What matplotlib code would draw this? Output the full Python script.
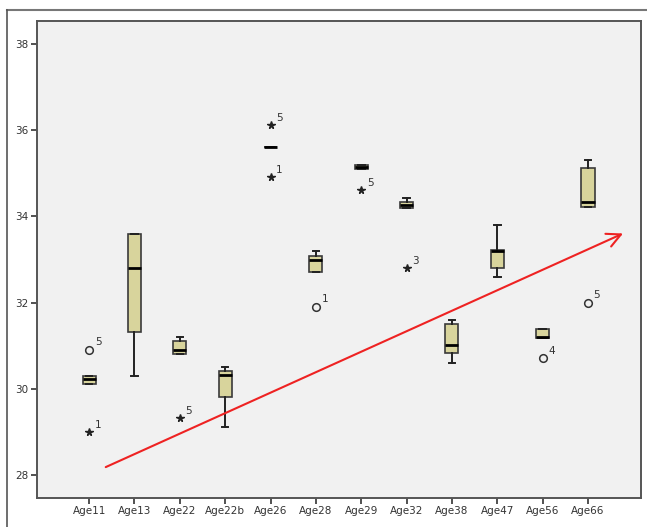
import matplotlib.pyplot as plt
import matplotlib.lines as mlines
import numpy as np

# ---------------- data ----------------
groups = ['Age11', 'Age13', 'Age22', 'Age22b', 'Age26', 'Age28',
          'Age29', 'Age32', 'Age38', 'Age47', 'Age56', 'Age66']
whislo = [30.12, 30.30, 30.81, 29.12, 35.60, 32.70, 35.09, 34.20, 30.60, 32.60, 31.19, 34.21]
q1     = [30.12, 31.33, 30.81, 29.81, 35.60, 32.70, 35.09, 34.20, 30.84, 32.81, 31.19, 34.21]
med    = [30.22, 32.81, 30.90, 30.33, 35.60, 33.00, 35.14, 34.26, 31.02, 33.20, 31.21, 34.33]
q3     = [30.30, 33.60, 31.12, 30.42, 35.60, 33.09, 35.19, 34.33, 31.51, 33.21, 31.40, 35.12]
whishi = [30.30, 33.60, 31.20, 30.51, 35.60, 33.19, 35.19, 34.42, 31.60, 33.79, 31.40, 35.30]

# outliers: (group index, value, case label)
circ_grp = [0, 5, 10, 11]
circ_val = [30.91, 31.91, 30.72, 32.00]
circ_lab = ['5', '1', '4', '5']
star_grp = [0, 2, 4, 4, 6, 7]
star_val = [29.00, 29.33, 36.12, 34.91, 34.60, 32.81]
star_lab = ['1', '5', '5', '1', '5', '3']

# trend arrow (x in group units, y in data units)
arrow_x = [0.31, 11.83]
arrow_y = [28.16, 33.63]

# ---------------- plot ----------------
fig = plt.figure(figsize=(6.47, 5.27), dpi=100)
W, H = 647, 527
ax = fig.add_axes([37 / W, 1 - 498 / H, (641 - 37) / W, (498 - 21) / H])
ax.set_facecolor('#f1f1f1')

stats = []
for i in range(len(groups)):
    stats.append({'whislo': whislo[i], 'q1': q1[i], 'med': med[i],
                  'q3': q3[i], 'whishi': whishi[i], 'fliers': []})

ax.bxp(stats, positions=range(len(groups)), widths=0.29, patch_artist=True,
       showfliers=False,
       boxprops=dict(facecolor='#d8d49c', edgecolor='#3a3a3a', linewidth=1.2),
       medianprops=dict(color='black', linewidth=2.0),
       whiskerprops=dict(color='#222222', linewidth=1.4),
       capprops=dict(color='#222222', linewidth=1.4))

ax.plot(circ_grp, circ_val, 'o', mfc='none', mec='#333333', ms=5.5, mew=1.1)
ax.plot(star_grp, star_val, '*', color='#222222', ms=5.5, ls='none')
for g, v, t in zip(circ_grp + star_grp, circ_val + star_val, circ_lab + star_lab):
    ax.annotate(t, (g, v), xytext=(4, 3), textcoords='offset points',
                fontsize=7.5, color='#333333')

ax.annotate('', xy=(arrow_x[1], arrow_y[1]), xytext=(arrow_x[0], arrow_y[0]),
            arrowprops=dict(arrowstyle='->,head_length=1.0,head_width=0.5',
                            color='#ee2222', lw=1.5))

ax.set_xlim(-1.15, 12.17)
ax.set_ylim(27.47, 38.53)
ax.set_yticks([28, 30, 32, 34, 36, 38])
ax.set_xticks(range(len(groups)))
ax.set_xticklabels(groups)
ax.tick_params(axis='both', labelsize=7.5, labelcolor='#333333', color='#333333',
               length=4, width=1.2, pad=2)
for s in ax.spines.values():
    s.set_color('#555555')
    s.set_linewidth(1.4)

# outer frame (top and left)
fig.add_artist(mlines.Line2D([7 / W, 1], [1 - 10 / H, 1 - 10 / H], color='#777777', lw=1.5))
fig.add_artist(mlines.Line2D([7 / W, 7 / W], [0, 1 - 10 / H], color='#555555', lw=1.2))

fig.savefig('out.png', dpi=100)
